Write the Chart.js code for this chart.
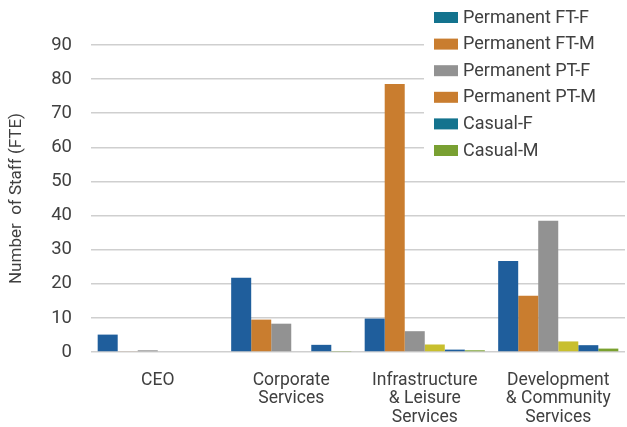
<!DOCTYPE html>
<html>
<head>
<meta charset="utf-8">
<script src="https://cdn.jsdelivr.net/npm/chart.js@4"></script>
<style>
html, body { margin: 0; padding: 0; background: #fff; overflow: hidden; }
#wrap { width: 627px; height: 427px; position: relative; }
</style>
</head>
<body>
<div id="wrap"><canvas id="chart" width="627" height="427"></canvas></div>
<script>
// chart values
var categories = ['CEO', ['Corporate', 'Services'], ['Infrastructure', '& Leisure', 'Services'], ['Development', '& Community', 'Services']];
var seriesNames = ['Permanent FT-F', 'Permanent FT-M', 'Permanent PT-F', 'Permanent PT-M', 'Casual-F', 'Casual-M'];
var permanentFTF = [5.1, 21.8, 9.8, 26.7];
var permanentFTM = [0.2, 9.5, 78.6, 16.5];
var permanentPTF = [0.5, 8.3, 6.1, 38.5];
var permanentPTM = [0, 0, 2.2, 3.1];
var casualF = [0, 2.1, 0.7, 2.0];
var casualM = [0, 0.3, 0.5, 1.0];
var yTicks = [0, 10, 20, 30, 40, 50, 60, 70, 80, 90];

// bar fills and the (different) swatches the legend shows
var barColours = ['#1f5e9c', '#c97d2f', '#929292', '#c8bf2e', '#1f5e9c', '#7aa12f'];
var legendColours = ['#13738e', '#c97d2f', '#929292', '#c97d2f', '#13738e', '#79a032'];

var seriesValues = [permanentFTF, permanentFTM, permanentPTF, permanentPTM, casualF, casualM];
var textColour = '#404040';
var fontFamily = 'Roboto, "Liberation Sans", sans-serif';

/**
* Legend drawn on top of the plot, top right, over a white patch
* (the reference hides the upper grid lines behind it).
*/
var boxLegend = {
    id: 'boxLegend',
    afterDraw: function(chart) {
        var ctx = chart.ctx;
        ctx.save();
        ctx.fillStyle = '#ffffff';
        ctx.fillRect(424, 0, 203, 164);
        ctx.font = '18px ' + fontFamily;
        ctx.textBaseline = 'middle';
        chart.data.datasets.forEach(function(ds, i) {
            var y = 17 + i * 26.6;
            ctx.fillStyle = legendColours[i];
            ctx.fillRect(434, y - 5, 24, 11);
            ctx.fillStyle = textColour;
            ctx.fillText(ds.label, 463, y + 1);
        });
        ctx.restore();
    }
};

var datasets = seriesNames.map(function(name, i) {
    return {
        label: name,
        data: seriesValues[i],
        backgroundColor: barColours[i],
        borderWidth: 0
    };
});

new Chart(document.getElementById('chart').getContext('2d'), {
    type: 'bar',
    data: { labels: categories, datasets: datasets },
    plugins: [boxLegend],
    options: {
        responsive: false,
        animation: false,
        devicePixelRatio: 1,
        categoryPercentage: 0.9,
        barPercentage: 1,
        layout: { padding: { top: 45, right: 2, left: 0, bottom: 0 } },
        plugins: {
            legend: { display: false },
            tooltip: { enabled: false }
        },
        scales: {
            x: {
                grid: { display: false },
                border: { display: false },
                ticks: {
                    color: textColour,
                    font: { family: fontFamily, size: 17.5, lineHeight: 1.06 },
                    padding: 11,
                    maxRotation: 0,
                    autoSkip: false
                },
                afterFit: function(scale) { scale.height = 75; }
            },
            y: {
                min: 0,
                max: 90,
                afterBuildTicks: function(scale) {
                    scale.ticks = yTicks.map(function(v) { return { value: v }; });
                },
                grid: { color: '#cfcfcf', lineWidth: 1.5, drawTicks: false },
                border: { display: false },
                ticks: {
                    color: textColour,
                    font: { family: fontFamily, size: 18.5 },
                    padding: 19
                },
                title: {
                    display: true,
                    text: 'Number  of Staff (FTE)',
                    color: textColour,
                    font: { family: fontFamily, size: 17 },
                    padding: { top: 7, bottom: 0 }
                },
                afterFit: function(scale) { scale.width = 91; }
            }
        }
    }
});
</script>
</body>
</html>
